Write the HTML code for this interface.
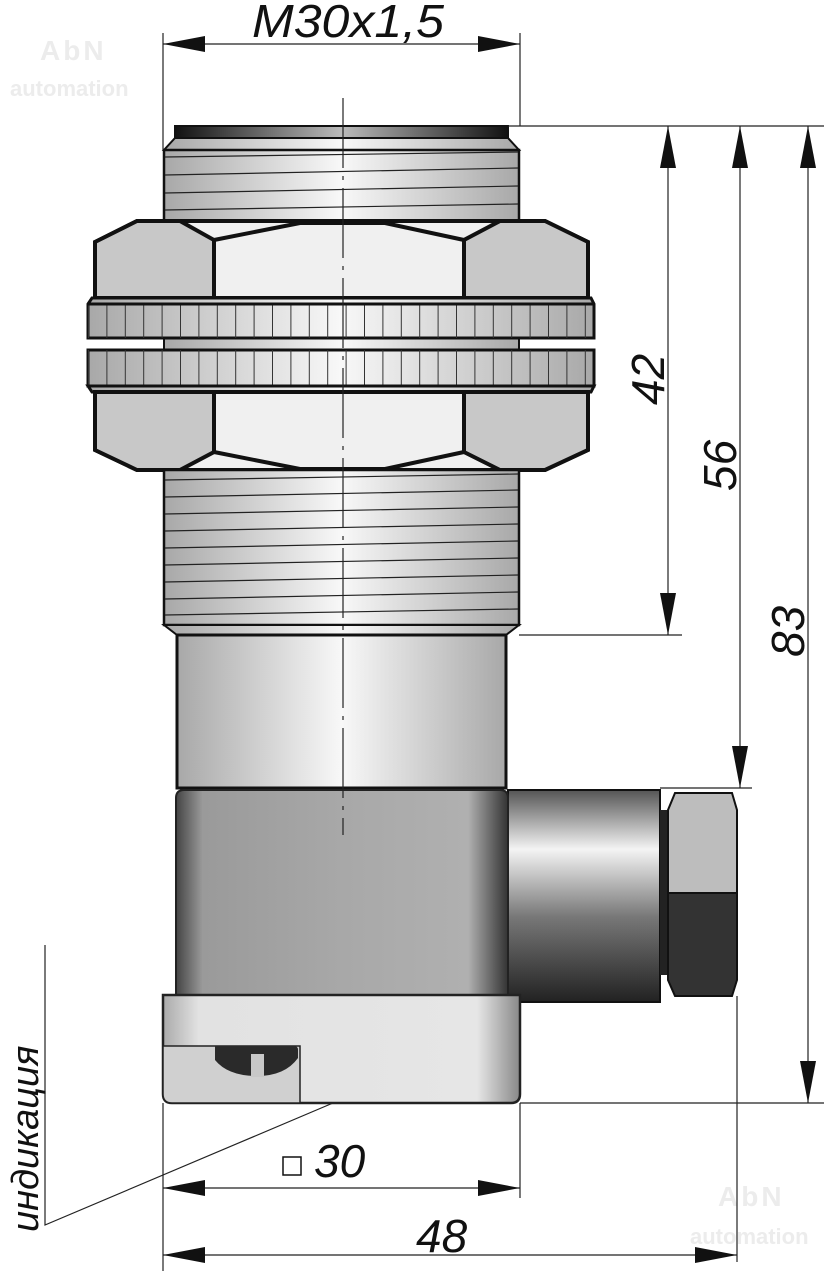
<!DOCTYPE html>
<html><head><meta charset="utf-8"><style>
html,body{margin:0;padding:0;background:#fff;}
svg{display:block;}
text{font-family:"Liberation Sans",sans-serif;}
</style></head><body>
<svg width="824" height="1271" viewBox="0 0 824 1271" xmlns="http://www.w3.org/2000/svg">
<defs>
<linearGradient id="hz" x1="0" x2="1" y1="0" y2="0">
<stop offset="0" stop-color="#a8a8a8"/><stop offset="0.5" stop-color="#f8f8f8"/><stop offset="1" stop-color="#a8a8a8"/></linearGradient>
<linearGradient id="cap" x1="0" x2="1">
<stop offset="0" stop-color="#111"/><stop offset="0.5" stop-color="#bbb"/><stop offset="1" stop-color="#111"/></linearGradient>
<linearGradient id="body" x1="0" x2="1">
<stop offset="0" stop-color="#444"/><stop offset="0.08" stop-color="#9a9a9a"/><stop offset="0.5" stop-color="#a8a8a8"/><stop offset="0.88" stop-color="#b0b0b0"/><stop offset="1" stop-color="#333"/></linearGradient>
<linearGradient id="base" x1="0" x2="1">
<stop offset="0" stop-color="#aaa"/><stop offset="0.1" stop-color="#e2e2e2"/><stop offset="0.88" stop-color="#e6e6e6"/><stop offset="1" stop-color="#888"/></linearGradient>
<linearGradient id="conn" x1="0" x2="0" y1="0" y2="1">
<stop offset="0" stop-color="#555"/><stop offset="0.28" stop-color="#f4f4f4"/><stop offset="0.6" stop-color="#777"/><stop offset="1" stop-color="#222"/></linearGradient>
<pattern id="knurl" width="18.4" height="40" patternUnits="userSpaceOnUse" x="88">
<line x1="0.5" y1="0" x2="0.5" y2="40" stroke="#333" stroke-width="1"/></pattern>
</defs>

<g fill="#ececec" font-weight="bold">
<text x="40" y="60" font-size="28" letter-spacing="3">AbN</text>
<text x="10" y="96" font-size="22">automation</text>
<text x="718" y="1206" font-size="28" letter-spacing="3">AbN</text>
<text x="690" y="1244" font-size="22">automation</text>
</g>

<rect x="175" y="126" width="333" height="12" fill="url(#cap)" stroke="#111" stroke-width="2"/>
<polygon points="175,138 508,138 519,150 164,150" fill="url(#hz)" stroke="#111" stroke-width="2"/>
<rect x="164" y="150" width="355" height="72" fill="url(#hz)" stroke="#111" stroke-width="2.5"/>
<g stroke="#222" stroke-width="1.2">
<line x1="165" y1="157" x2="518" y2="152"/><line x1="165" y1="175" x2="518" y2="168"/>
<line x1="165" y1="193" x2="518" y2="186"/><line x1="165" y1="210" x2="518" y2="204"/></g>
<rect x="164" y="336" width="355" height="16" fill="url(#hz)" stroke="#111" stroke-width="2"/>
<g stroke="#111" stroke-width="4" stroke-linejoin="miter">
<polygon points="95,242 137,221 545,221 588,242 588,298 95,298" fill="#f0f0f0"/>
<polygon points="95,242 137,221 180,221 214,240 214,298 95,298" fill="#c8c8c8"/>
<polygon points="588,242 545,221 500,221 464,240 464,298 588,298" fill="#c8c8c8"/>
<polyline points="214,240 300,223 385,223 464,240" fill="none"/>
</g>
<g stroke="#111" stroke-width="3">
<polygon points="92,298 591,298 594,304 594,338 88,338 88,304" fill="url(#hz)"/>
<rect x="88" y="304" width="506" height="34" fill="url(#knurl)" stroke="none"/>
<line x1="88" y1="304" x2="594" y2="304"/>
<rect x="88" y="350" width="506" height="36" fill="url(#hz)"/>
<rect x="88" y="350" width="506" height="36" fill="url(#knurl)" stroke="none"/>
<polygon points="88,386 594,386 591,392 92,392" fill="url(#hz)"/>
</g>
<g stroke="#111" stroke-width="4">
<polygon points="95,392 588,392 588,450 545,470 137,470 95,450" fill="#f0f0f0"/>
<polygon points="95,392 214,392 214,452 180,470 137,470 95,450" fill="#c8c8c8"/>
<polygon points="588,392 464,392 464,452 500,470 545,470 588,450" fill="#c8c8c8"/>
<polyline points="214,452 300,469 385,469 464,452" fill="none"/>
</g>
<rect x="164" y="470" width="355" height="155" fill="url(#hz)" stroke="#111" stroke-width="2.5"/>
<g stroke="#222" stroke-width="1.2">
<line x1="165" y1="480" x2="518" y2="474"/><line x1="165" y1="497" x2="518" y2="490"/>
<line x1="165" y1="514" x2="518" y2="507"/><line x1="165" y1="531" x2="518" y2="524"/>
<line x1="165" y1="548" x2="518" y2="541"/><line x1="165" y1="565" x2="518" y2="558"/>
<line x1="165" y1="582" x2="518" y2="575"/><line x1="165" y1="599" x2="518" y2="592"/>
<line x1="165" y1="615" x2="518" y2="609"/></g>
<polygon points="164,625 519,625 506,635 177,635" fill="url(#hz)" stroke="#111" stroke-width="2"/>
<rect x="177" y="635" width="329" height="153" fill="url(#hz)" stroke="#111" stroke-width="3"/>
<rect x="508" y="790" width="152" height="212" fill="url(#conn)" stroke="#111" stroke-width="2"/>
<rect x="660" y="810" width="8" height="165" fill="#222"/>
<polygon points="675,793 732,793 737,810 737,893 668,893 668,810" fill="#bdbdbd" stroke="#111" stroke-width="2"/>
<polygon points="668,893 737,893 737,980 732,996 675,996 668,980" fill="#333" stroke="#111" stroke-width="2"/>
<path d="M184,790 H500 Q508,790 508,798 V998 H176 V798 Q176,790 184,790 Z" fill="url(#body)" stroke="#222" stroke-width="2"/>
<path d="M163,995 H520 V1094 Q520,1103 511,1103 H172 Q163,1103 163,1094 Z" fill="url(#base)" stroke="#222" stroke-width="2.5"/>
<path d="M163,1046 H300 V1103 H172 Q163,1103 163,1094 Z" fill="#d0d0d0" stroke="#222" stroke-width="1.5"/>
<path d="M215,1046 H294 Q298,1046 298,1050 V1058 Q285,1076 257,1076 Q228,1076 215,1060 Z" fill="#2a2a2a"/>
<rect x="251" y="1054" width="13" height="23" fill="#c8c8c8"/>

<line x1="343" y1="98" x2="343" y2="835" stroke="#222" stroke-width="1.2" stroke-dasharray="70,8,4,8"/>

<g stroke="#222" stroke-width="1.2" fill="none">
<line x1="163" y1="33" x2="163" y2="150"/><line x1="520" y1="33" x2="520" y2="126"/>
<line x1="163" y1="44" x2="520" y2="44"/>
<line x1="508" y1="126" x2="824" y2="126"/>
<line x1="519" y1="635" x2="682" y2="635"/>
<line x1="660" y1="788" x2="752" y2="788"/>
<line x1="520" y1="1103" x2="824" y2="1103"/>
<line x1="668" y1="126" x2="668" y2="635"/>
<line x1="740" y1="126" x2="740" y2="788"/>
<line x1="808" y1="126" x2="808" y2="1103"/>
<line x1="163" y1="1103" x2="163" y2="1271"/>
<line x1="520" y1="1103" x2="520" y2="1198"/>
<line x1="737" y1="996" x2="737" y2="1262"/>
<line x1="163" y1="1188" x2="520" y2="1188"/>
<line x1="163" y1="1255" x2="737" y2="1255"/>
<polyline points="45,945 45,1225 333,1103"/>
</g>
<g fill="#111">
<polygon points="163,44 205,36 205,52"/><polygon points="520,44 478,36 478,52"/>
<polygon points="668,126 660,168 676,168"/><polygon points="668,635 660,593 676,593"/>
<polygon points="740,126 732,168 748,168"/><polygon points="740,788 732,746 748,746"/>
<polygon points="808,126 800,168 816,168"/><polygon points="808,1103 800,1061 816,1061"/>
<polygon points="163,1188 205,1180 205,1196"/><polygon points="520,1188 478,1180 478,1196"/>
<polygon points="163,1255 205,1247 205,1263"/><polygon points="737,1255 695,1247 695,1263"/>
</g>
<g font-size="46" font-style="italic" fill="#111">
<text x="252" y="37" textLength="192" lengthAdjust="spacingAndGlyphs">M30x1,5</text>
<text transform="translate(664,405) rotate(-90)">42</text>
<text transform="translate(736,491) rotate(-90)">56</text>
<text transform="translate(804,657) rotate(-90)">83</text>
<text x="314" y="1177">30</text>
<text x="416" y="1252">48</text>
<text transform="translate(38,1232) rotate(-90)" font-size="38">индикация</text>
</g>
<rect x="283" y="1157" width="18" height="18" fill="none" stroke="#111" stroke-width="1.5"/>
</svg>
</body></html>
